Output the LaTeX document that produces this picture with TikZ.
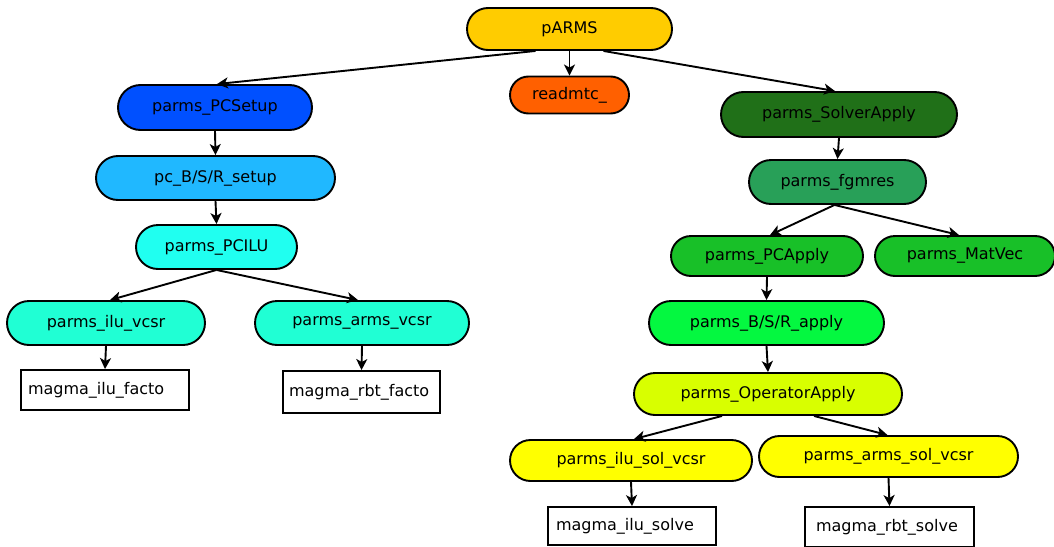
\documentclass[tikz,border=0pt]{standalone}
\usepackage{fontspec}
\setmainfont{DejaVu Sans}
\usetikzlibrary{shapes.misc,arrows.meta,calc}

\definecolor{cRoot}{HTML}{FFCC00}
\definecolor{cRead}{HTML}{FF6000}
\definecolor{cSetup}{HTML}{0050FF}
\definecolor{cBSRsetup}{HTML}{20B8FF}
\definecolor{cPCILU}{HTML}{20FFF0}
\definecolor{cVcsr}{HTML}{20FFD4}
\definecolor{cSolver}{HTML}{207018}
\definecolor{cFgmres}{HTML}{28A058}
\definecolor{cPCApply}{HTML}{18C028}
\definecolor{cBSRapply}{HTML}{04F840}
\definecolor{cOper}{HTML}{D8FF00}
\definecolor{cSol}{HTML}{FFFF00}

\tikzset{
  pill/.style={rounded rectangle, draw=black, line width=1.9pt, inner sep=0pt,
    font=\fontsize{16}{19}\selectfont},
  leaf/.style={rectangle, draw=black, line width=1.9pt, inner ysep=0pt,
    align=left, font=\fontsize{16}{19}\selectfont},
  edge/.style={line width=1.9pt, -{Stealth[length=11pt,width=11pt,inset=3pt]}},
}

\begin{document}
\begin{tikzpicture}[x=1pt,y=-1pt]
\useasboundingbox[fill=white] (0,0) rectangle (1054,546);

% root and first level
\node[pill, fill=cRoot, minimum width=205, minimum height=42] (root) at (569.5,29) {pARMS};
\node[pill, fill=cRead, minimum width=119, minimum height=37] (read) at (569.5,95) {readmtc\_};
\node[pill, fill=cSetup, minimum width=194, minimum height=45] (setup) at (215,107.5) {parms\_PCSetup};
\node[pill, fill=cSolver, minimum width=236, minimum height=45] (solver) at (839,114.5) {parms\_SolverApply};

% setup branch
\node[pill, fill=cBSRsetup, minimum width=239, minimum height=44] (bsrsetup) at (215.5,178) {pc\_B/S/R\_setup};
\node[pill, fill=cPCILU, minimum width=161, minimum height=44] (pcilu) at (216.5,247) {parms\_PCILU};
\node[pill, fill=cVcsr, minimum width=198, minimum height=44] (iluv) at (106,323) {parms\_ilu\_vcsr};
\node[pill, fill=cVcsr, minimum width=214, minimum height=44] (armsv) at (362,323) {parms\_arms\_vcsr};
\node[leaf, minimum width=168, minimum height=40, text width=154, inner xsep=7] (ilufacto) at (105,390) {magma\_ilu\_facto};
\node[leaf, minimum width=157, minimum height=42, text width=145, inner xsep=6] (rbtfacto) at (361.5,392) {magma\_rbt\_facto};

% solver branch
\node[pill, fill=cFgmres, minimum width=177, minimum height=44] (fgmres) at (837.5,182) {parms\_fgmres};
\node[pill, fill=cPCApply, minimum width=192, minimum height=40] (pcapply) at (767,256) {parms\_PCApply};
\node[pill, fill=cPCApply, minimum width=180, minimum height=40] (matvec) at (965,256) {parms\_MatVec};
\node[pill, fill=cBSRapply, minimum width=235, minimum height=44] (bsrapply) at (766.5,323) {parms\_B/S/R\_apply};
\node[pill, fill=cOper, minimum width=268, minimum height=42] (oper) at (768,394) {parms\_OperatorApply};
\node[pill, fill=cSol, minimum width=242, minimum height=41] (ilusol) at (631,460.5) {parms\_ilu\_sol\_vcsr};
\node[pill, fill=cSol, minimum width=259, minimum height=41] (armssol) at (888.5,456.5) {parms\_arms\_sol\_vcsr};
\node[leaf, minimum width=168, minimum height=38, text width=152, inner xsep=8] (ilusolve) at (632,526) {magma\_ilu\_solve};
\node[leaf, minimum width=169, minimum height=40, text width=147, inner xsep=11] (rbtsolve) at (889.5,527) {magma\_rbt\_solve};

% calls
\draw[edge] ($(root.south)+(-34,0)$) -- ($(setup.north)+(2,0)$);
\draw[edge] (root.south) -- (read.north);
\draw[edge] ($(root.south)+(34,0)$) -- ($(solver.north)+(-4,0)$);

\draw[edge] (setup.south) -- (bsrsetup.north);
\draw[edge] (bsrsetup.south) -- (pcilu.north);
\draw[edge] (pcilu.south) -- ($(iluv.north)+(4,0)$);
\draw[edge] (pcilu.south) -- ($(armsv.north)+(-4,0)$);
\draw[edge] (iluv.south) -- (ilufacto.north);
\draw[edge] (armsv.south) -- (rbtfacto.north);

\draw[edge] (solver.south) -- (fgmres.north);
\draw[edge] ($(fgmres.south)+(-3,0)$) -- ($(pcapply.north)+(3,0)$);
\draw[edge] ($(fgmres.south)+(-3,0)$) -- ($(matvec.north)+(-6,0)$);
\draw[edge] (pcapply.south) -- (bsrapply.north);
\draw[edge] (bsrapply.south) -- (oper.north);
\draw[edge] ($(oper.south)+(-46,0)$) -- ($(ilusol.north)+(3,0)$);
\draw[edge] ($(oper.south)+(46,0)$) -- ($(armssol.north)+(-1,0)$);
\draw[edge] (ilusol.south) -- (ilusolve.north);
\draw[edge] (armssol.south) -- (rbtsolve.north);
\end{tikzpicture}
\end{document}
